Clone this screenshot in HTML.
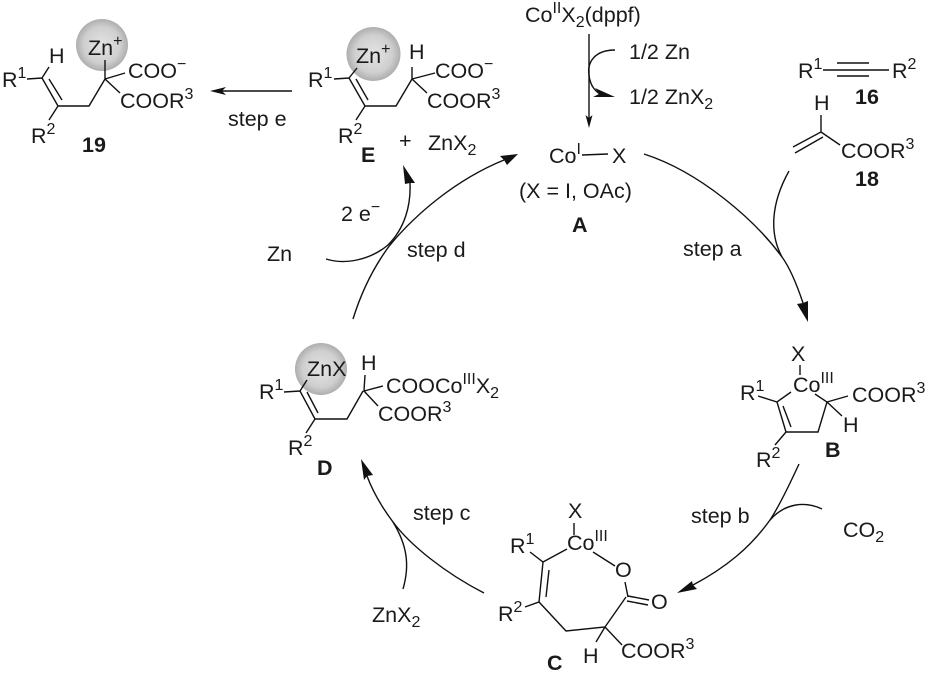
<!DOCTYPE html>
<html><head><meta charset="utf-8">
<style>
html,body{margin:0;padding:0;background:#fff}
svg{display:block}
text{font-family:"Liberation Sans",sans-serif;font-size:21.5px;fill:#1a1a1a}
.b{font-weight:bold;font-size:21.5px}
.s{font-size:16px}
path,line{fill:none;stroke:#111;stroke-width:1.4}
polygon{fill:#111;stroke:none}
</style></head><body>
<svg width="928" height="673" viewBox="0 0 928 673" xmlns="http://www.w3.org/2000/svg">
<defs><radialGradient id="g" cx="50%" cy="50%" r="50%"><stop offset="0" stop-color="#e4e4e4"/><stop offset=".7" stop-color="#cfcfcf"/><stop offset="1" stop-color="#aeaeae"/></radialGradient></defs>

<!-- 19 -->
<circle cx="102" cy="45" r="26" fill="url(#g)"/>
<path d="M27,79L42,78L58,106L89,106L105,79L105,60M105,79L125,73M105,79L120,93M49,79L62,100M42,78L49,67M58,106L49,120"/>
<text x="2" y="87">R<tspan class="s" dy="-9">1</tspan></text>
<text x="49" y="63">H</text>
<text x="88" y="55">Zn<tspan class="s" dy="-9">+</tspan></text>
<text x="128" y="78">COO<tspan class="s" dy="-9">−</tspan></text>
<text x="120" y="108">COOR<tspan class="s" dy="-9">3</tspan></text>
<text x="31" y="143">R<tspan class="s" dy="-9">2</tspan></text>
<text class="b" x="82" y="152">19</text>

<!-- step e -->
<line x1="292" y1="91" x2="220" y2="91"/>
<polygon points="210,91 226,87 222,91 226,95"/>
<text x="228" y="126">step e</text>

<!-- E -->
<circle cx="373.5" cy="54" r="27" fill="url(#g)"/>
<path d="M334,79L349,78L365,106L396,106L412,79L412,67M412,79L435,73M412,79L427,93M356,79L368,100M349,78L357,68M365,106L356,120"/>
<text x="308" y="87">R<tspan class="s" dy="-9">1</tspan></text>
<text x="356" y="63">Zn<tspan class="s" dy="-9">+</tspan></text>
<text x="409" y="59">H</text>
<text x="435" y="78">COO<tspan class="s" dy="-9">−</tspan></text>
<text x="427" y="108">COOR<tspan class="s" dy="-9">3</tspan></text>
<text x="338" y="143">R<tspan class="s" dy="-9">2</tspan></text>
<text class="b" x="361" y="162">E</text>
<text x="399" y="148">+</text>
<text x="428" y="150">ZnX<tspan class="s" dy="5">2</tspan></text>

<!-- top catalyst -->
<text x="525" y="22">Co<tspan class="s" dy="-9">II</tspan><tspan dy="9">X</tspan><tspan class="s" dy="5">2</tspan><tspan dy="-5">(dppf)</tspan></text>
<line x1="589" y1="34" x2="589" y2="118"/>
<polygon points="589,128 585.500,115 589,118 592.500,115"/>
<path d="M615,50C595,50 587,62 589,75C590,86 596,93 604,96"/>
<polygon points="615,97 595,88 599,94 593,97"/>
<text x="629" y="59">1/2 Zn</text>
<text x="629" y="104">1/2 ZnX<tspan class="s" dy="5">2</tspan></text>

<!-- 16 -->
<text x="798" y="78">R<tspan class="s" dy="-9">1</tspan></text>
<path d="M823,70L889,70M837,63L869,63M837,76L869,76"/>
<text x="892" y="78">R<tspan class="s" dy="-9">2</tspan></text>
<text class="b" x="855" y="104">16</text>

<!-- 18 -->
<text x="814" y="110">H</text>
<path d="M821,115L821,132L793,147M821,132L840,145M823,137L795,153"/>
<text x="841" y="158">COOR<tspan class="s" dy="-9">3</tspan></text>
<text class="b" x="855" y="186">18</text>

<!-- A -->
<text x="549" y="163">Co<tspan class="s" dy="-9">I</tspan></text>
<line x1="582" y1="155" x2="608" y2="154"/>
<text x="612" y="163">X</text>
<text x="519" y="198">(X = I, OAc)</text>
<text class="b" x="572" y="232">A</text>

<!-- A to B -->
<path d="M644,154C700,172 755,220 782,257C790,268 797,285 803,303"/>
<path d="M789,171C770,205 770,235 782,257"/>
<polygon points="808,322 797,304 803,303 808,301"/>
<text x="683" y="256">step a</text>

<!-- B -->
<text x="791" y="361">X</text>
<path d="M800,365L800,375M758,396L777,402L791,392M777,402L786,432L818,432L827,402L815,394M783,406L791,427M827,402L848,396M827,402L842,416M786,432L775,445"/>
<text x="793" y="392">Co<tspan class="s" dy="-9">III</tspan></text>
<text x="740" y="400">R<tspan class="s" dy="-9">1</tspan></text>
<text x="852" y="402">COOR<tspan class="s" dy="-9">3</tspan></text>
<text x="843" y="432">H</text>
<text x="756" y="467">R<tspan class="s" dy="-9">2</tspan></text>
<text class="b" x="825" y="457">B</text>

<!-- B to C -->
<path d="M799,464C787,490 778,508 770,520C750,548 725,568 693,585"/>
<polygon points="677,593 692,581 693,585 697,589"/>
<path d="M822,509C805,501 785,503 770,520"/>
<text x="843" y="537">CO<tspan class="s" dy="5">2</tspan></text>
<text x="691" y="523">step b</text>

<!-- C -->
<text x="568" y="518">X</text>
<path d="M574,523L574,535M530,552L543,562L567,549M543,562L539,602M549,570L546,597M525,607L539,602L566,631L605,627L626,597M593,552L615,566M625,582L628,597M628,596L649,600M627,601L648,605M605,627L596,642M605,627L622,645"/>
<text x="567" y="550">Co<tspan class="s" dy="-9">III</tspan></text>
<text x="510" y="553">R<tspan class="s" dy="-9">1</tspan></text>
<text x="498" y="621">R<tspan class="s" dy="-9">2</tspan></text>
<text x="615" y="577">O</text>
<text x="651" y="609">O</text>
<text x="583" y="663">H</text>
<text x="621" y="658">COOR<tspan class="s" dy="-9">3</tspan></text>
<text class="b" x="547" y="670">C</text>

<!-- C to D -->
<path d="M484,593C445,573 410,545 393,522C381,506 373,492 367,476"/>
<polygon points="361,459 364,480 367,476 373,475"/>
<path d="M403,589C410,565 407,545 393,522"/>
<text x="372" y="622">ZnX<tspan class="s" dy="5">2</tspan></text>
<text x="413" y="520">step c</text>

<!-- D -->
<circle cx="321" cy="369" r="26" fill="url(#g)"/>
<path d="M284,392L300,391L315,419L347,419L363,391M307,392L318,413M300,391L307,380M365,375L364,391L383,386M364,391L378,406M315,419L306,433"/>
<text x="259" y="399">R<tspan class="s" dy="-9">1</tspan></text>
<text x="307" y="376">ZnX</text>
<text x="361" y="370">H</text>
<text x="386" y="393">COOCo<tspan class="s" dy="-9">III</tspan><tspan dy="9">X</tspan><tspan class="s" dy="5">2</tspan></text>
<text x="378" y="421">COOR<tspan class="s" dy="-9">3</tspan></text>
<text x="288" y="455">R<tspan class="s" dy="-9">2</tspan></text>
<text class="b" x="317" y="475">D</text>

<!-- D to A -->
<path d="M353,319C362,290 375,265 390,245C415,215 455,180 504,160"/>
<polygon points="518,154 500,156 504,160 507,165"/>
<path d="M326,259C345,265 370,260 388,245C405,228 411,205 410,183"/>
<polygon points="403,165 415,183 410,183 405,184"/>
<text x="267" y="261">Zn</text>
<text x="341" y="221">2 e<tspan class="s" dy="-9">−</tspan></text>
<text x="407" y="257">step d</text>
</svg>
</body></html>
